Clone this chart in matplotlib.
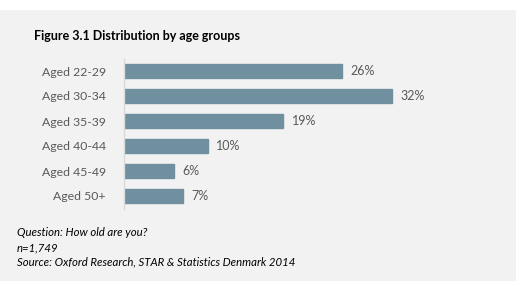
import matplotlib.pyplot as plt
from matplotlib.patches import Rectangle

# data
groups = ['Aged 22-29', 'Aged 30-34', 'Aged 35-39', 'Aged 40-44', 'Aged 45-49', 'Aged 50+']
shares = [26, 32, 19, 10, 6, 7]

W, H = 523, 286
fig = plt.figure(figsize=(W / 100, H / 100), dpi=100)
fig.patch.set_facecolor('white')
# grey panel
fig.patches.append(Rectangle((0, 5 / H), 516 / W, 271 / H, transform=fig.transFigure,
                             facecolor='#f2f2f2', edgecolor='none', zorder=-1))

font = 'Lato'
grey = '#595959'

# axes: x=0 at px 124, 1% = 8.38 px; rows 25 px apart, first centre at y=71
x0 = 124
px_per = 8.38
xmax = 45
top = 71 - 12.5
bottom = 196 + 12.5
ax = fig.add_axes([x0 / W, 1 - bottom / H, xmax * px_per / W, (bottom - top) / H])
ax.set_facecolor('none')

y = list(range(len(groups)))
ax.barh(y, shares, height=0.56, color='#71909f', edgecolor='#71909f')
for yi, v in zip(y, shares):
    ax.text(v + 1.0, yi, f'{v}%', va='center', ha='left', color=grey, fontsize=9, family=font)

ax.set_ylim(len(groups) - 0.5, -0.5)
ax.set_xlim(0, xmax)
ax.set_yticks(y)
ax.set_yticklabels(groups, color=grey, fontsize=8.8, family=font)
ax.tick_params(axis='y', length=0, pad=13)
ax.set_xticks([])
for s in ['top', 'right', 'bottom']:
    ax.spines[s].set_visible(False)
ax.spines['left'].set_color('#d9d9d9')
ax.spines['left'].set_linewidth(1)

fig.text(34 / W, 1 - 36 / H, 'Figure 3.1 Distribution by age groups', fontsize=9,
         fontweight='bold', family=font, va='center', color='black')

notes = ['Question: How old are you?', 'n=1,749',
         'Source: Oxford Research, STAR & Statistics Denmark 2014']
for i, line in enumerate(notes):
    fig.text(17 / W, 1 - (233 + 14.5 * i) / H, line, fontsize=8.2, style='italic',
             family=font, va='center', color='black')

fig.savefig('out.png', dpi=100, facecolor=fig.get_facecolor())
